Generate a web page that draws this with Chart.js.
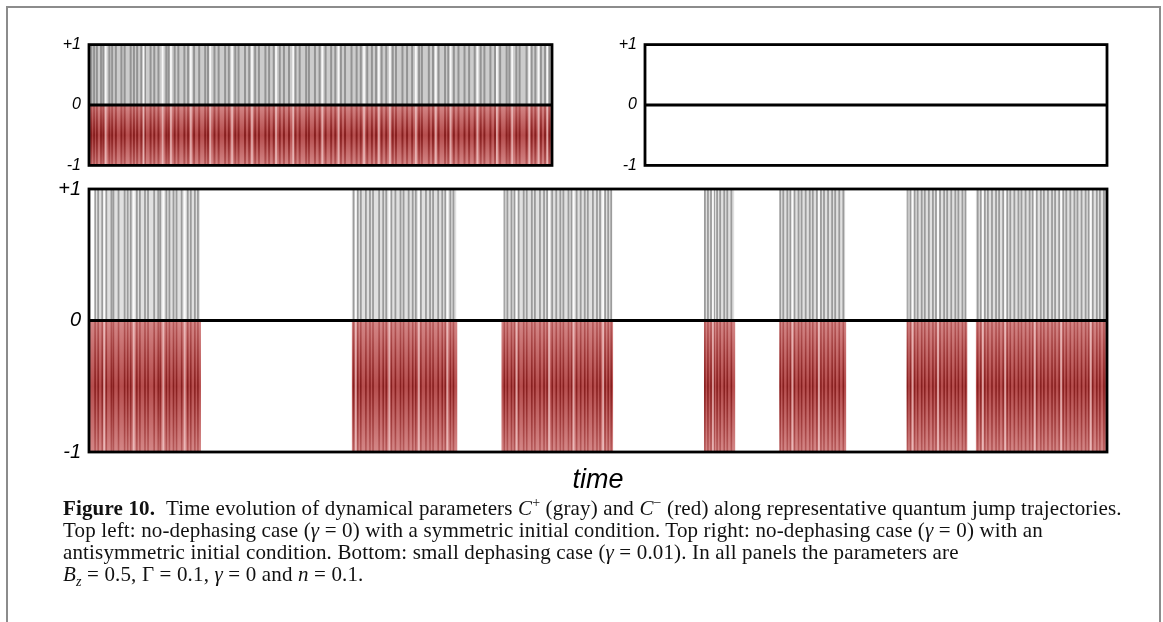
<!DOCTYPE html>
<html>
<head>
<meta charset="utf-8">
<script src="https://cdn.jsdelivr.net/npm/chart.js@4.4.1/dist/chart.umd.min.js"></script>
<style>
  body { margin: 0; background: #fff; width: 1163px; height: 622px; overflow: hidden; position: relative; }
  #frame { position: absolute; left: 6px; top: 6px; width: 1151px; height: 640px; border: 2px solid #8c8c8c; border-bottom: none; }
  canvas { position: absolute; }
  #caption {
    position: absolute; left: 63px; top: 497px;
    font-family: "Liberation Serif", "DejaVu Serif", serif; font-size: 21px; line-height: 22px;
    letter-spacing: 0.15px; color: #111; white-space: nowrap;
  }
  #caption sup, #caption sub { font-size: 14px; line-height: 0; }
</style>
</head>
<body>
<div id="frame"></div>
<canvas id="topLeft" width="520" height="156" style="left:40px;top:27px"></canvas>
<canvas id="topRight" width="520" height="156" style="left:596px;top:27px"></canvas>
<canvas id="bottom" width="1080" height="333" style="left:40px;top:169px"></canvas>
<div id="caption">
<b>Figure 10.</b>&nbsp;&nbsp;Time evolution of dynamical parameters <i>C</i><sup>+</sup> (gray) and <i>C</i><sup>−</sup> (red) along representative quantum jump trajectories.<br>
Top left: no-dephasing case (<i>γ</i> = 0) with a symmetric initial condition. Top right: no-dephasing case (<i>γ</i> = 0) with an<br>
antisymmetric initial condition. Bottom: small dephasing case (<i>γ</i> = 0.01). In all panels the parameters are<br>
<i>B<sub>z</sub></i> = 0.5, Γ = 0.1, <i>γ</i> = 0 and <i>n</i> = 0.1.
</div>
<script>
// time runs 0..1000 in every panel
const tMax = 1000;

// top left: symmetric start, jumps all the way along
const activeTL = [[0, 1000]];
const jumpsTL = [5, 11, 17, 26, 31, 44, 50, 58, 70, 77, 90, 97, 104, 113, 121, 133, 141, 150, 167, 172, 185, 193, 206, 214, 227, 238, 251, 257, 271, 280,
  294, 302, 316, 323, 337, 346, 359, 367, 381, 389, 399, 412, 421, 432, 446, 455, 469, 475, 488, 498, 511, 523, 532, 544, 553, 567, 578, 587, 601, 611,
  620, 632, 642, 656, 663, 677, 687, 698, 713, 719, 734, 743, 755, 769, 776, 788, 798, 811, 821, 833, 846, 854, 867, 877, 888, 902, 908, 923, 930, 945,
  956, 964, 976, 985, 994];
const gapsTL = [36, 118, 159, 177, 220, 262, 309, 352, 404, 441, 504, 539, 594, 626, 650, 706, 749, 781, 839, 881, 914, 951, 971, 990];

// top right: antisymmetric start, nothing happens
const activeTR = [];
const jumpsTR = [];
const gapsTR = [];

// bottom: small dephasing, bursts of jumps
const grayBlocks = [[6, 109], [258, 361], [408, 514], [604, 634], [678, 743], [804, 862], [871, 1000]];
const redBlocks = [[0, 110], [258, 362], [405, 515], [604, 635], [678, 744], [803, 863], [871, 1000]];
const jumpsB = [6, 9, 13, 17, 22, 24, 29, 35, 38, 41, 47, 50, 55, 58, 64, 68, 70, 76, 79, 83, 86, 91, 97, 100, 104, 107,
  260, 264, 267, 272, 276, 279, 285, 289, 292, 297, 301, 306, 309, 314, 318, 321, 326, 331, 335, 338, 343, 347, 350, 355, 358,
  408, 411, 415, 418, 422, 427, 430, 435, 438, 443, 447, 450, 455, 459, 463, 466, 471, 474, 479, 483, 487, 490, 495, 499, 502, 507, 510, 513,
  605, 608, 611, 614, 617, 620, 624, 627, 631,
  679, 682, 686, 689, 693, 697, 700, 704, 708, 711, 715, 719, 722, 726, 730, 733, 737, 741,
  804, 807, 811, 814, 818, 821, 825, 829, 832, 836, 840, 843, 847, 851, 854, 858, 861,
  873, 876, 880, 883, 887, 891, 894, 898, 902, 905, 909, 913, 916, 920, 924, 927, 931, 935, 938, 942, 946, 949, 953, 957, 960, 964, 968, 971, 975, 979, 982, 986, 990, 993, 997];
const gapsB = [15, 44, 73, 94, 262, 295, 324, 352, 420, 452, 476, 505, 613, 691, 717, 809, 834, 878, 900, 929, 955, 984];

const yTicks = ["-1", "0", "+1"];

function vLines(times, y0, y1, color, width) {
  return {
    data: times.flatMap((t) => [{ x: t, y: y0 }, { x: t, y: y1 }, { x: t, y: null }]),
    borderColor: color,
    borderWidth: width,
    pointRadius: 0,
    fill: false,
    spanGaps: false,
  };
}

function bands(blocks, y, color) {
  return blocks.map(([a, b]) => ({
    data: [{ x: a, y: y }, { x: b, y: y }],
    borderWidth: 0,
    pointRadius: 0,
    fill: "origin",
    backgroundColor: color,
  }));
}

// vertical gradient over the lower half: pale near 0 and -1, strong in the middle
function lowerGradient(edge, mid) {
  return (context) => {
    const chart = context.chart;
    const y = chart.scales.y;
    if (!chart.chartArea || !y) return mid;
    const g = chart.ctx.createLinearGradient(0, y.getPixelForValue(0), 0, y.getPixelForValue(-1));
    g.addColorStop(0, edge);
    g.addColorStop(0.5, mid);
    g.addColorStop(1, edge);
    return g;
  };
}

const framePlugin = {
  id: "frame",
  afterDatasetsDraw(chart) {
    const { ctx, chartArea: { left, right, top, bottom }, scales: { y } } = chart;
    const y0 = y.getPixelForValue(0);
    ctx.save();
    ctx.strokeStyle = "#000";
    ctx.lineWidth = 2.8;
    ctx.strokeRect(left, top, right - left, bottom - top);
    ctx.beginPath();
    ctx.moveTo(left, y0);
    ctx.lineTo(right, y0);
    ctx.stroke();
    ctx.restore();
  },
};

function makePanel(id, opts) {
  // Chart.js paints the last dataset first, so the bands go at the end
  const datasets = [
    vLines(opts.gaps, 0, 1, "rgba(255,255,255,0.85)", 1.8),
    vLines(opts.jumps, 0, 1, opts.grayLine, opts.lineWidth),
    ...bands(opts.grayBlocks, 1, opts.grayBand),
    vLines(opts.gaps, 0, -1, "rgba(255,228,228,0.55)", 1.8),
    vLines(opts.jumps, 0, -1, lowerGradient("rgba(130,15,15,0.35)", "rgba(115,10,10,0.7)"), opts.redWidth),
    ...bands(opts.redBlocks, -1, lowerGradient("rgb(212,135,135)", "rgb(182,78,78)")),
  ];
  return new Chart(document.getElementById(id), {
    type: "line",
    data: { datasets: datasets },
    options: {
      responsive: false,
      animation: false,
      layout: { padding: opts.padding },
      plugins: { legend: { display: false }, tooltip: { enabled: false } },
      scales: {
        x: {
          type: "linear",
          min: 0,
          max: tMax,
          display: !!opts.title,
          grid: { display: false, drawTicks: false },
          border: { display: false },
          ticks: { display: false },
          title: {
            display: !!opts.title,
            text: opts.title || "",
            color: "#000",
            font: { family: "Liberation Sans", style: "italic", size: 27 },
            padding: { top: 0, bottom: 5 },
          },
          afterFit: (s) => { s.height = opts.title ? 50 : 0; },
        },
        y: {
          min: -1,
          max: 1,
          grid: { display: false, drawTicks: false },
          border: { display: false },
          ticks: {
            stepSize: 1,
            padding: 8,
            color: "#000",
            font: { family: "Liberation Sans", style: "italic", size: opts.tickSize },
            callback: (v) => yTicks[v + 1],
          },
          afterFit: (s) => { s.width = 49; },
        },
      },
    },
    plugins: [framePlugin],
  });
}

makePanel("topLeft", {
  grayBlocks: activeTL, redBlocks: activeTL, jumps: jumpsTL, gaps: gapsTL,
  grayBand: "rgba(0,0,0,0.2)", grayLine: "rgba(60,60,60,0.4)", lineWidth: 2, redWidth: 2,
  padding: { left: 0, right: 8, top: 3, bottom: 3 }, tickSize: 16,
});

makePanel("topRight", {
  grayBlocks: activeTR, redBlocks: activeTR, jumps: jumpsTR, gaps: gapsTR,
  grayBand: "rgba(0,0,0,0.2)", grayLine: "rgba(60,60,60,0.4)", lineWidth: 2, redWidth: 2,
  padding: { left: 0, right: 9, top: 3, bottom: 3 }, tickSize: 16,
});

makePanel("bottom", {
  grayBlocks: grayBlocks, redBlocks: redBlocks, jumps: jumpsB, gaps: gapsB,
  grayBand: "rgba(0,0,0,0.12)", grayLine: "rgba(70,70,70,0.45)", lineWidth: 1.8, redWidth: 1.6,
  padding: { left: 0, right: 13, top: 1, bottom: 0 }, tickSize: 20, title: "time",
});
</script>
</body>
</html>
